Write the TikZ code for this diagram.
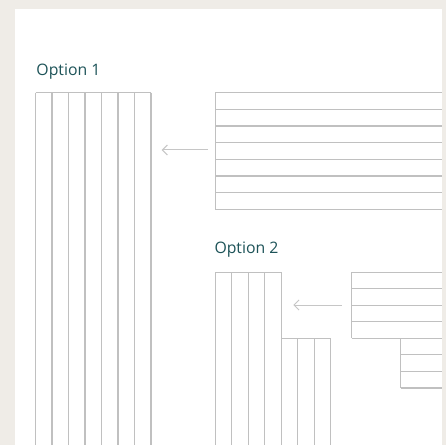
\documentclass[tikz,border=0pt]{standalone}
\usepackage{fontspec}
\setmainfont{Open Sans}
\usetikzlibrary{arrows.meta}
\definecolor{bgbeige}{HTML}{EFECE7}
\definecolor{gridgray}{HTML}{C0C0C0}
\definecolor{arrowgray}{HTML}{C6C6C6}
\definecolor{titleteal}{HTML}{1D5358}
\begin{document}
\begin{tikzpicture}[x=1bp,y=-1bp,
  stripe/.style={draw=gridgray,line width=1.1bp},
  title/.style={anchor=base west,inner sep=0pt,text=titleteal,font=\fontsize{15.8bp}{19bp}\selectfont},
  moveto/.style={draw=arrowgray,line width=1bp,-{Straight Barb[length=5bp,width=10bp]}}]
\useasboundingbox (0,0) rectangle (446,445);
\fill[bgbeige] (0,0) rectangle (446,445);
\fill[white] (15,9) rectangle (442,445);
% titles
\node[title] (t1) at (36.3,75.7) {Option 1};
\node[title] (t2) at (214.3,253.3) {Option 2};
% Option 1: vertical stripes
\draw[stripe] (35.5,92.7) -- (151,92.7);
\foreach \i in {0,...,7}{\draw[stripe] (35.5+16.5*\i,92.7) -- (35.5+16.5*\i,445);}
% Option 1: horizontal stripes
\draw[stripe] (215.3,92.7) -- (215.3,209.3);
\foreach \i in {0,...,7}{\draw[stripe] (215.3,92.7+16.66*\i) -- (442,92.7+16.66*\i);}
% Option 2: vertical stripes
\draw[stripe] (215.3,272.3) -- (281.3,272.3);
\foreach \i in {0,...,4}{\draw[stripe] (215.3+16.5*\i,272.3) -- (215.3+16.5*\i,445);}
\draw[stripe] (281.3,338.3) -- (330.8,338.3);
\foreach \i in {1,...,3}{\draw[stripe] (281.3+16.5*\i,338.3) -- (281.3+16.5*\i,445);}
% Option 2: horizontal stripes
\draw[stripe] (351.7,272.3) -- (351.7,338.3);
\foreach \i in {0,...,4}{\draw[stripe] (351.7,272.3+16.5*\i) -- (442,272.3+16.5*\i);}
\draw[stripe] (400.7,338.3) -- (400.7,388);
\foreach \i in {1,...,3}{\draw[stripe] (400.7,338.3+16.57*\i) -- (442,338.3+16.57*\i);}
% arrows
\coordinate (a1s) at (208,150);
\coordinate (a1e) at (161.7,150);
\coordinate (a2s) at (341.7,305);
\coordinate (a2e) at (293.3,305);
\draw[moveto] (a1s) -- (a1e);
\draw[moveto] (a2s) -- (a2e);
\end{tikzpicture}
\end{document}
